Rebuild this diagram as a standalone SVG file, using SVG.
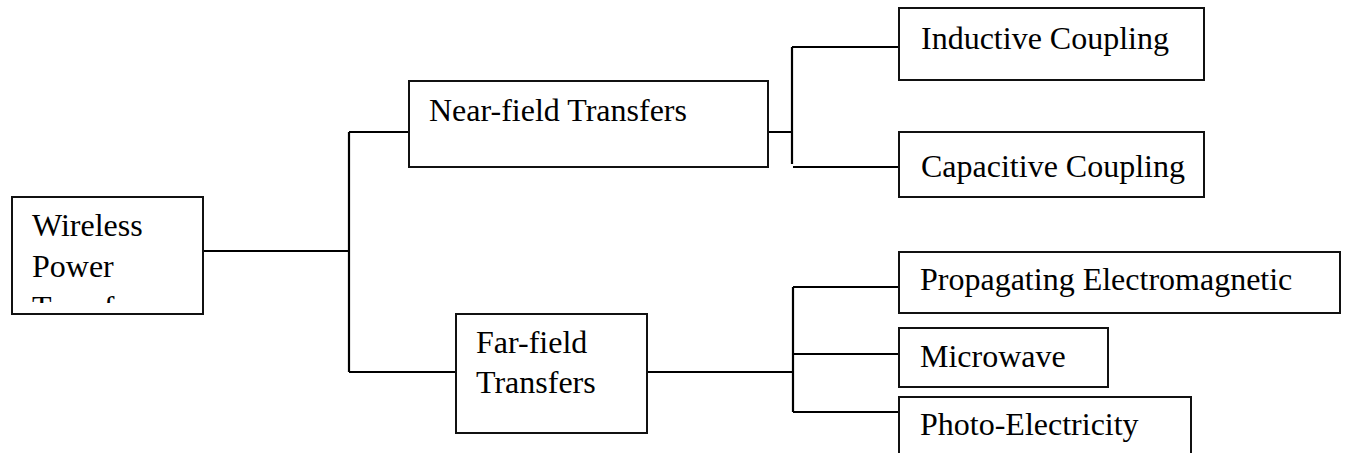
<svg xmlns="http://www.w3.org/2000/svg" width="1346" height="453" viewBox="0 0 1346 453">
<style>
.box{fill:#fff;stroke:#111;stroke-width:2}
.lbl{font-family:"Liberation Serif","Times New Roman",serif;font-size:32px;fill:#000}
.con{stroke:#000;stroke-width:2.2;fill:none}
</style>
<defs>
<clipPath id="clipW"><rect x="12" y="197" width="191" height="106"/></clipPath>
</defs>
<rect width="1346" height="453" fill="#fff"/>
<g id="connectors">
<path class="con" d="M203,251H349M349,132V372M349,132H409M349,372H456"/>
<path class="con" d="M768,132H792M792,47V164M792,47H899M793,167H899"/>
<path class="con" d="M647,372H793M793,287V412M793,287H899M793,354H899M793,412H899"/>
</g>
<g id="wireless">
<rect class="box" x="12" y="197" width="191" height="117"/>
<g clip-path="url(#clipW)">
<text class="lbl" x="32" y="236">Wireless</text>
<text class="lbl" x="32" y="277">Power</text>
<text class="lbl" x="32" y="318">Transfer</text>
</g>
</g>
<g id="nearfield">
<rect class="box" x="409" y="81" width="359" height="86"/>
<text class="lbl" x="429" y="121">Near-field Transfers</text>
</g>
<g id="farfield">
<rect class="box" x="456" y="314" width="191" height="119"/>
<text class="lbl" x="476" y="353">Far-field</text>
<text class="lbl" x="476" y="393">Transfers</text>
</g>
<g id="inductive">
<rect class="box" x="899" y="8" width="305" height="72"/>
<text class="lbl" x="921" y="49">Inductive Coupling</text>
</g>
<g id="capacitive">
<rect class="box" x="899" y="132" width="305" height="65"/>
<text class="lbl" x="921" y="177">Capacitive Coupling</text>
</g>
<g id="propagating">
<rect class="box" x="899" y="252" width="441" height="61"/>
<text class="lbl" x="920" y="290">Propagating Electromagnetic</text>
</g>
<g id="microwave">
<rect class="box" x="899" y="328" width="209" height="59"/>
<text class="lbl" x="920" y="367">Microwave</text>
</g>
<g id="photo">
<rect class="box" x="899" y="397" width="292" height="70"/>
<text class="lbl" x="920" y="435">Photo-Electricity</text>
</g>
</svg>
